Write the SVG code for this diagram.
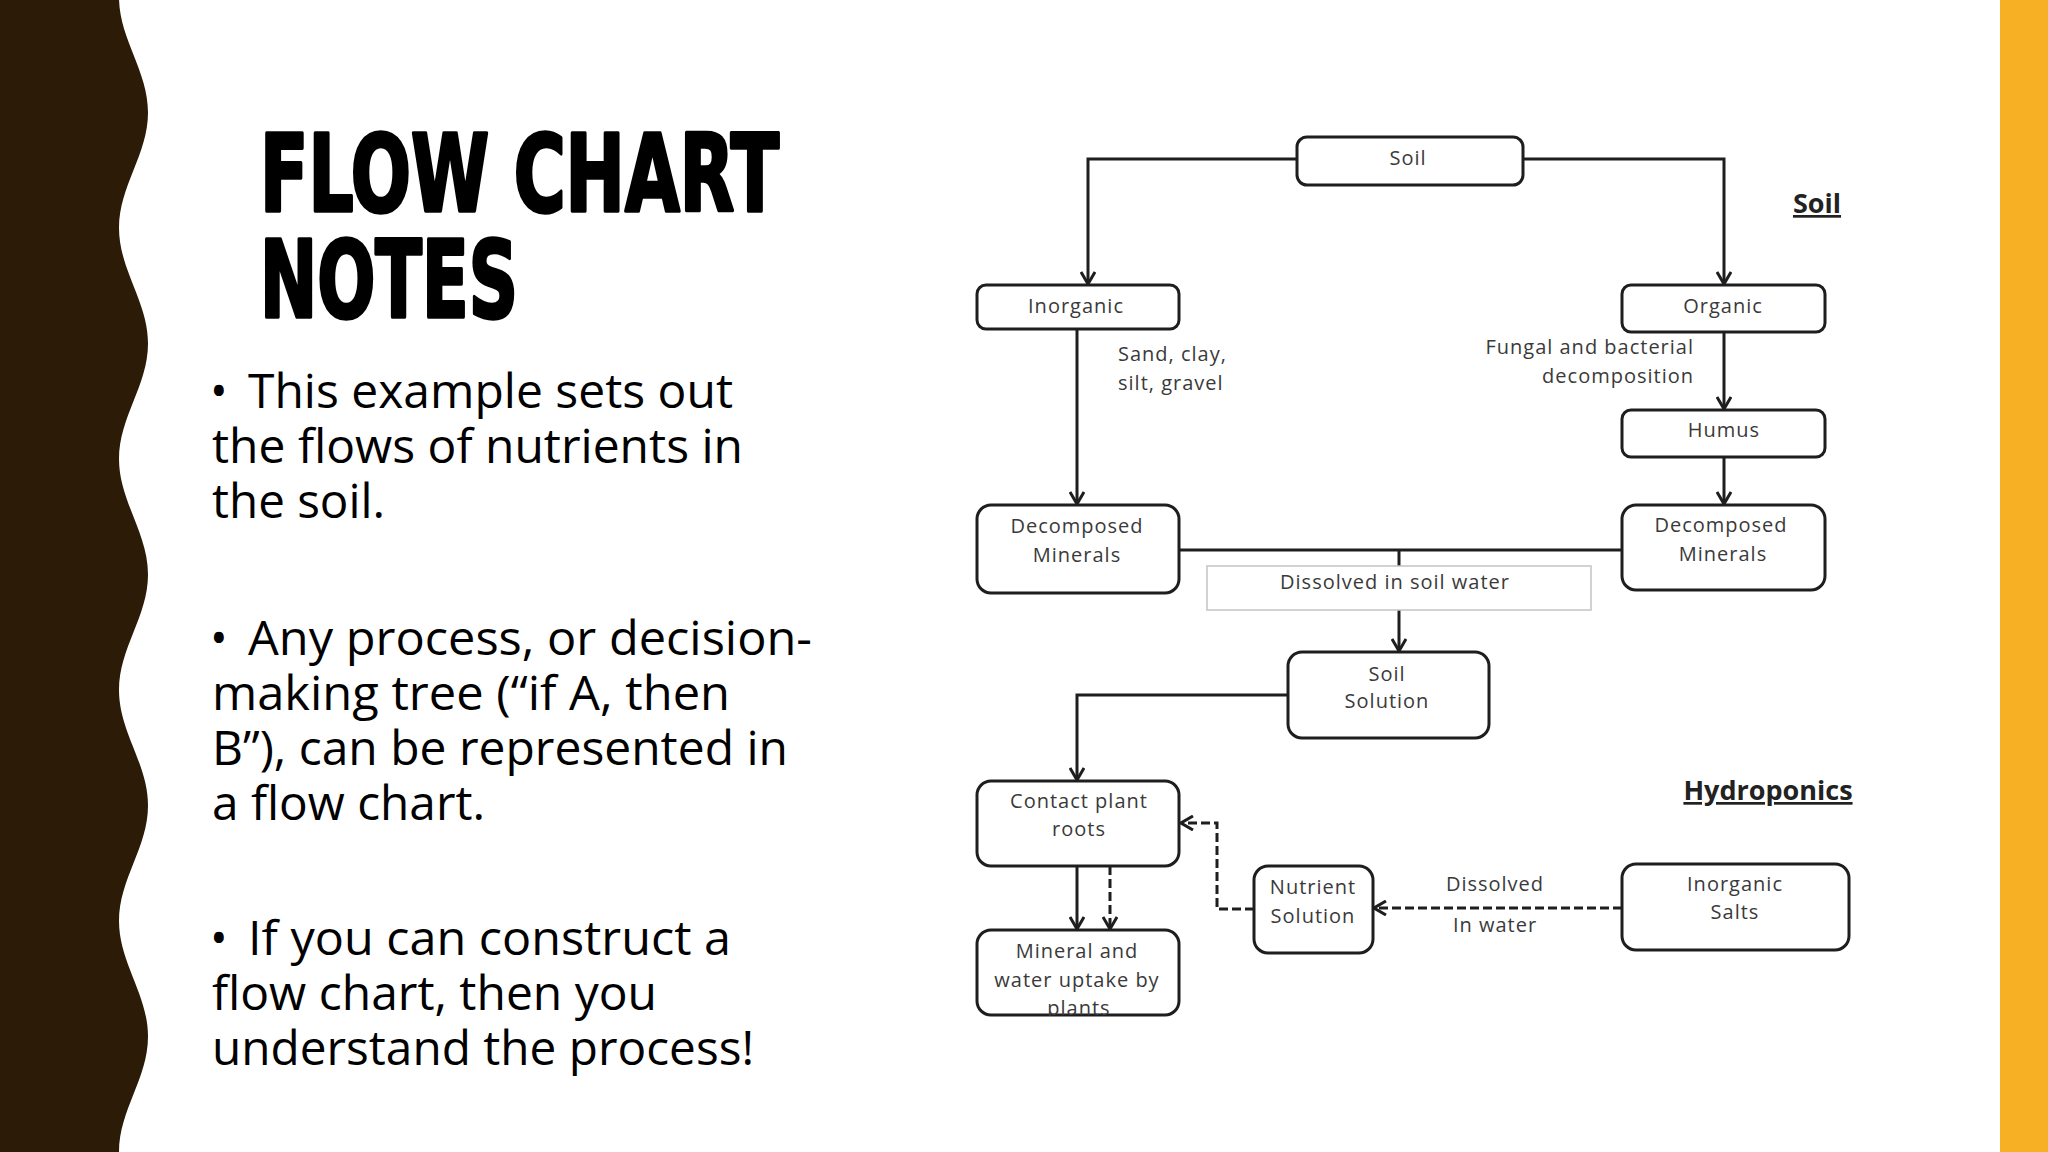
<svg xmlns="http://www.w3.org/2000/svg" width="2048" height="1152" viewBox="0 0 2048 1152">
<defs>
<style>
.title{font-family:"DejaVu Sans Condensed","DejaVu Sans","Liberation Sans Narrow",sans-serif;font-weight:bold;font-size:107px;fill:#000;stroke:#000;stroke-width:3.5;stroke-linejoin:round;}
.body{font-family:"Open Sans","Noto Sans","Liberation Sans",sans-serif;font-size:47px;fill:#000;}
.box{fill:#fff;stroke:#1e1e1e;stroke-width:3;}
.lbl{font-family:"Open Sans","Noto Sans","Liberation Sans",sans-serif;font-size:20px;fill:#3a3a3a;text-anchor:middle;letter-spacing:1px;}
.side{font-family:"Open Sans","Noto Sans","Liberation Sans",sans-serif;font-size:20px;fill:#3a3a3a;letter-spacing:1px;}
.head{font-family:"Open Sans","Noto Sans","Liberation Sans",sans-serif;font-size:27px;font-weight:bold;fill:#222;text-anchor:middle;text-decoration:underline;}
.ln{fill:none;stroke:#1e1e1e;stroke-width:3;}
.dash{fill:none;stroke:#1e1e1e;stroke-width:3;stroke-dasharray:9 4;}
</style>
<marker id="arr" viewBox="0 0 14 16" refX="13" refY="8" markerWidth="14" markerHeight="16" markerUnits="userSpaceOnUse" orient="auto">
<path d="M1,1 L13,8 L1,15" fill="none" stroke="#1e1e1e" stroke-width="3"/>
</marker>
<clipPath id="clipUptake"><rect x="977" y="930" width="202" height="86"/></clipPath>
</defs>
<rect x="0" y="0" width="2048" height="1152" fill="#fff"/>
<path d="M0,-3 L119,-3 C119,39 148,70.5 148,112.5 C148,154.5 119,186 119,228 C119,270 148,301.5 148,343.5 C148,385.5 119,417 119,459 C119,501 148,532.5 148,574.5 C148,616.5 119,648 119,690 C119,732 148,763.5 148,805.5 C148,847.5 119,879 119,921 C119,963 148,994.5 148,1036.5 C148,1078.5 119,1110 119,1152 L0,1152 Z" fill="#2b1b07"/>
<rect x="2000" y="0" width="48" height="1152" fill="#f7b023"/>
<g id="title">
<text class="title"><tspan x="260" y="211" textLength="519" lengthAdjust="spacingAndGlyphs">FLOW CHART</tspan><tspan x="260" y="317" textLength="258" lengthAdjust="spacingAndGlyphs">NOTES</tspan></text>
</g>
<g id="bullets" class="body">
<text><tspan x="210" y="408">•</tspan><tspan x="248" y="408" textLength="485" lengthAdjust="spacingAndGlyphs">This example sets out</tspan><tspan x="212" y="463" textLength="531" lengthAdjust="spacingAndGlyphs">the flows of nutrients in</tspan><tspan x="212" y="518" textLength="173" lengthAdjust="spacingAndGlyphs">the soil.</tspan></text>
<text><tspan x="210" y="655">•</tspan><tspan x="248" y="655" textLength="564" lengthAdjust="spacingAndGlyphs">Any process, or decision-</tspan><tspan x="212" y="710" textLength="518" lengthAdjust="spacingAndGlyphs">making tree (“if A, then</tspan><tspan x="212" y="765" textLength="576" lengthAdjust="spacingAndGlyphs">B”), can be represented in</tspan><tspan x="212" y="820" textLength="273" lengthAdjust="spacingAndGlyphs">a flow chart.</tspan></text>
<text><tspan x="210" y="955">•</tspan><tspan x="248" y="955" textLength="483" lengthAdjust="spacingAndGlyphs">If you can construct a</tspan><tspan x="212" y="1010" textLength="445" lengthAdjust="spacingAndGlyphs">flow chart, then you</tspan><tspan x="212" y="1065" textLength="542" lengthAdjust="spacingAndGlyphs">understand the process!</tspan></text>
</g>
<g id="connectors">
<polyline class="ln" points="1297,159 1088,159 1088,284" marker-end="url(#arr)"/>
<polyline class="ln" points="1523,159 1724,159 1724,284" marker-end="url(#arr)"/>
<line class="ln" x1="1077" y1="329" x2="1077" y2="504" marker-end="url(#arr)"/>
<line class="ln" x1="1724" y1="332" x2="1724" y2="409" marker-end="url(#arr)"/>
<line class="ln" x1="1724" y1="457" x2="1724" y2="504" marker-end="url(#arr)"/>
<line class="ln" x1="1179" y1="550" x2="1622" y2="550"/>
<line class="ln" x1="1399" y1="550" x2="1399" y2="566"/>
<line class="ln" x1="1399" y1="610" x2="1399" y2="651" marker-end="url(#arr)"/>
<polyline class="ln" points="1288,695 1077,695 1077,780" marker-end="url(#arr)"/>
<line class="ln" x1="1077" y1="866" x2="1077" y2="929" marker-end="url(#arr)"/>
<line class="dash" x1="1110" y1="866" x2="1110" y2="929" marker-end="url(#arr)"/>
<polyline class="dash" points="1254,909 1217,909 1217,823 1181,823" marker-end="url(#arr)"/>
<line class="dash" x1="1622" y1="908" x2="1374" y2="908" marker-end="url(#arr)"/>
</g>
<g id="n-soil"><rect class="box" x="1297" y="137" width="226" height="48" rx="10"/><text class="lbl" x="1408" y="165">Soil</text></g>
<g id="n-inorganic"><rect class="box" x="977" y="285" width="202" height="44" rx="9"/><text class="lbl" x="1076" y="313">Inorganic</text></g>
<g id="n-organic"><rect class="box" x="1622" y="285" width="203" height="47" rx="9"/><text class="lbl" x="1723" y="313">Organic</text></g>
<g id="n-humus"><rect class="box" x="1622" y="410" width="203" height="47" rx="9"/><text class="lbl" x="1724" y="437">Humus</text></g>
<g id="n-dm-left"><rect class="box" x="977" y="505" width="202" height="88" rx="14"/><text class="lbl"><tspan x="1077" y="533">Decomposed</tspan><tspan x="1077" y="562">Minerals</tspan></text></g>
<g id="n-dm-right"><rect class="box" x="1622" y="505" width="203" height="85" rx="14"/><text class="lbl"><tspan x="1721" y="532">Decomposed</tspan><tspan x="1723" y="561">Minerals</tspan></text></g>
<g id="n-dissolved"><rect x="1207" y="566" width="384" height="44" fill="#fff" stroke="#c4c4c4" stroke-width="1.5"/><text class="lbl" x="1395" y="589">Dissolved in soil water</text></g>
<g id="n-soil-solution"><rect class="box" x="1288" y="652" width="201" height="86" rx="14"/><text class="lbl"><tspan x="1387" y="681">Soil</tspan><tspan x="1387" y="708">Solution</tspan></text></g>
<g id="n-contact"><rect class="box" x="977" y="781" width="202" height="85" rx="14"/><text class="lbl"><tspan x="1079" y="808">Contact plant</tspan><tspan x="1079" y="836">roots</tspan></text></g>
<g id="n-uptake"><rect class="box" x="977" y="930" width="202" height="85" rx="14"/><g clip-path="url(#clipUptake)"><text class="lbl"><tspan x="1077" y="958">Mineral and</tspan><tspan x="1077" y="987">water uptake by</tspan><tspan x="1079" y="1015">plants</tspan></text></g></g>
<g id="n-nutrient"><rect class="box" x="1254" y="866" width="119" height="87" rx="14"/><text class="lbl"><tspan x="1313" y="894">Nutrient</tspan><tspan x="1313" y="923">Solution</tspan></text></g>
<g id="n-salts"><rect class="box" x="1622" y="864" width="227" height="86" rx="14"/><text class="lbl"><tspan x="1735" y="891">Inorganic</tspan><tspan x="1735" y="919">Salts</tspan></text></g>
<g id="labels">
<text class="side"><tspan x="1118" y="361">Sand, clay,</tspan><tspan x="1118" y="390">silt, gravel</tspan></text>
<text class="side" text-anchor="end"><tspan x="1694" y="354">Fungal and bacterial</tspan><tspan x="1694" y="383">decomposition</tspan></text>
<text class="lbl"><tspan x="1495" y="891">Dissolved</tspan><tspan x="1495" y="932">In water</tspan></text>
<text class="head" x="1817" y="213">Soil</text>
<text class="head" x="1768" y="800">Hydroponics</text>
</g>
</svg>
